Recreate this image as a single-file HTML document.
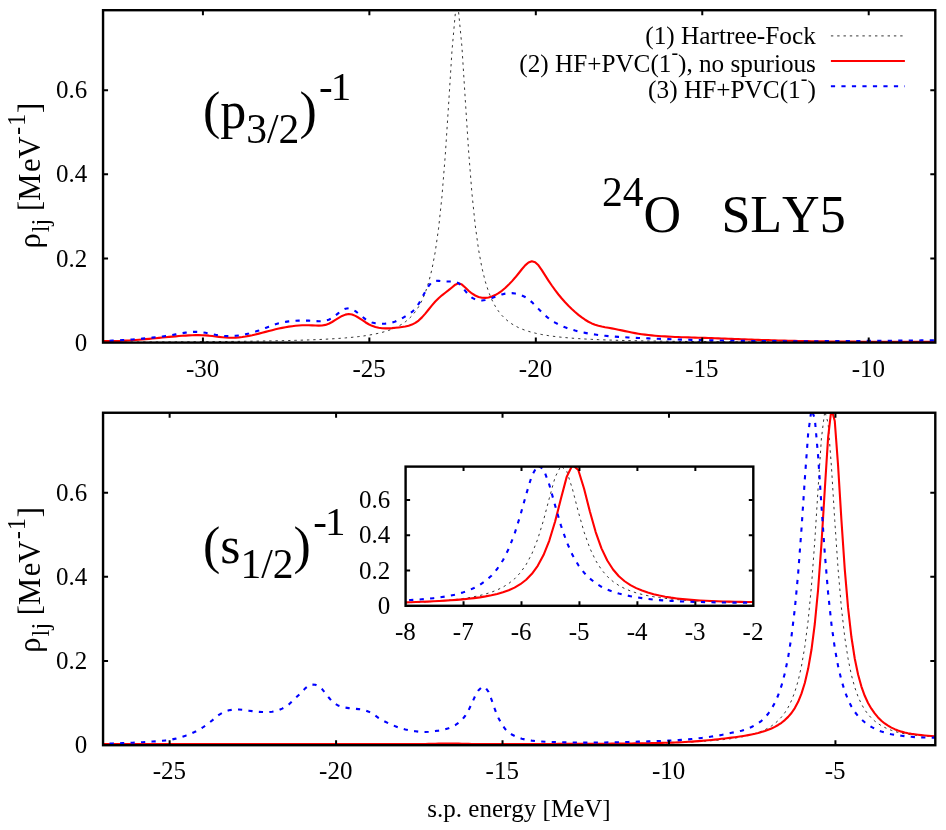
<!DOCTYPE html>
<html><head><meta charset="utf-8"><title>Level density 24O SLy5</title>
<style>
html,body{margin:0;padding:0;background:#fff;}
svg{display:block;will-change:transform;}
text{font-family:"Liberation Serif",serif;fill:#000;font-kerning:none;font-variant-ligatures:none;}
.fr{fill:none;stroke:#000;stroke-width:2.4;stroke-linejoin:miter;}
.tk{stroke:#000;stroke-width:2;fill:none;}
.hf{fill:none;stroke:#000;stroke-width:0.8;stroke-dasharray:2.4 3.9;}
.rd{fill:none;stroke:#ff0000;stroke-width:2.1;stroke-linejoin:round;}
.bl{fill:none;stroke:#0000ff;stroke-width:2.1;stroke-dasharray:4.2 6.3;stroke-linejoin:round;}
.t25{font-size:25px;}
</style></head><body>
<svg width="946" height="830" viewBox="0 0 946 830">
<rect width="946" height="830" fill="#fff"/>
<defs>
<clipPath id="ct"><rect x="103.05" y="10.2" width="832.25" height="333.70000000000005"/></clipPath>
<clipPath id="cb"><rect x="103.05" y="412.75" width="832.25" height="333.75000000000006"/></clipPath>
<clipPath id="ci"><rect x="405.6" y="466.6" width="347.69999999999993" height="140.49999999999994"/></clipPath>
</defs>

<g clip-path="url(#ct)">
<path class="hf" d="M99.06,342.14 L102.38,342.13 L105.71,342.12 L109.04,342.11 L112.37,342.10 L115.70,342.09 L119.03,342.08 L122.36,342.07 L125.69,342.06 L129.02,342.05 L132.35,342.04 L135.67,342.03 L139.00,342.01 L142.33,342.00 L145.66,341.99 L148.99,341.98 L152.32,341.96 L155.65,341.95 L158.98,341.93 L162.31,341.92 L165.64,341.90 L168.96,341.89 L172.29,341.87 L175.62,341.85 L178.95,341.83 L182.28,341.82 L185.61,341.80 L188.94,341.78 L192.27,341.76 L195.60,341.73 L198.93,341.71 L202.25,341.69 L205.58,341.66 L208.91,341.64 L212.24,341.61 L215.57,341.59 L218.90,341.56 L222.23,341.53 L225.56,341.50 L228.89,341.46 L232.22,341.43 L235.54,341.39 L238.87,341.36 L242.20,341.32 L245.53,341.28 L248.86,341.24 L252.19,341.19 L255.52,341.15 L258.85,341.10 L262.18,341.04 L265.51,340.99 L268.83,340.93 L272.16,340.87 L275.49,340.81 L278.82,340.74 L282.15,340.67 L285.48,340.60 L288.81,340.52 L292.14,340.43 L295.47,340.34 L298.80,340.25 L302.12,340.15 L305.45,340.04 L308.78,339.92 L312.11,339.80 L315.44,339.67 L318.77,339.53 L322.10,339.37 L325.43,339.21 L328.76,339.03 L332.09,338.84 L335.41,338.64 L338.74,338.41 L342.07,338.17 L345.40,337.91 L348.73,337.62 L352.06,337.30 L355.39,336.96 L358.72,336.58 L362.05,336.15 L365.38,335.69 L368.70,335.17 L372.03,334.59 L375.36,333.94 L378.69,333.21 L382.02,332.39 L385.35,331.45 L388.68,330.38 L392.01,329.15 L395.34,327.72 L398.67,326.07 L401.99,324.12 L405.32,321.82 L408.65,319.07 L411.98,315.76 L415.31,311.72 L418.64,306.74 L421.97,300.52 L425.30,292.63 L428.63,282.48 L431.96,269.22 L435.28,251.65 L438.61,228.13 L441.94,196.64 L445.27,155.30 L448.60,104.53 L451.93,51.48 L455.26,13.98 L458.59,11.95 L461.92,46.66 L465.25,99.12 L468.57,150.60 L471.90,192.97 L475.23,225.38 L478.56,249.60 L481.89,267.68 L485.22,281.31 L488.55,291.72 L491.88,299.81 L495.21,306.18 L498.54,311.27 L501.86,315.39 L505.19,318.77 L508.52,321.57 L511.85,323.91 L515.18,325.88 L518.51,327.57 L521.84,329.01 L525.17,330.26 L528.50,331.35 L531.83,332.30 L535.15,333.13 L538.48,333.87 L541.81,334.53 L545.14,335.11 L548.47,335.64 L551.80,336.11 L555.13,336.53 L558.46,336.92 L561.79,337.27 L565.12,337.59 L568.44,337.88 L571.77,338.15 L575.10,338.39 L578.43,338.62 L581.76,338.82 L585.09,339.02 L588.42,339.19 L591.75,339.36 L595.08,339.51 L598.41,339.65 L601.73,339.79 L605.06,339.91 L608.39,340.03 L611.72,340.14 L615.05,340.24 L618.38,340.33 L621.71,340.42 L625.04,340.51 L628.37,340.59 L631.70,340.66 L635.02,340.74 L638.35,340.80 L641.68,340.87 L645.01,340.93 L648.34,340.98 L651.67,341.04 L655.00,341.09 L658.33,341.14 L661.66,341.19 L664.99,341.23 L668.31,341.27 L671.64,341.32 L674.97,341.35 L678.30,341.39 L681.63,341.43 L684.96,341.46 L688.29,341.49 L691.62,341.52 L694.95,341.55 L698.28,341.58 L701.60,341.61 L704.93,341.64 L708.26,341.66 L711.59,341.69 L714.92,341.71 L718.25,341.73 L721.58,341.75 L724.91,341.77 L728.24,341.79 L731.57,341.81 L734.89,341.83 L738.22,341.85 L741.55,341.87 L744.88,341.88 L748.21,341.90 L751.54,341.92 L754.87,341.93 L758.20,341.95 L761.53,341.96 L764.86,341.97 L768.18,341.99 L771.51,342.00 L774.84,342.01 L778.17,342.03 L781.50,342.04 L784.83,342.05 L788.16,342.06 L791.49,342.07 L794.82,342.08 L798.15,342.09 L801.47,342.10 L804.80,342.11 L808.13,342.12 L811.46,342.13 L814.79,342.14 L818.12,342.15 L821.45,342.15 L824.78,342.16 L828.11,342.17 L831.44,342.18 L834.76,342.18 L838.09,342.19 L841.42,342.20 L844.75,342.21 L848.08,342.21 L851.41,342.22 L854.74,342.22 L858.07,342.23 L861.40,342.24 L864.73,342.24 L868.05,342.25 L871.38,342.25 L874.71,342.26 L878.04,342.27 L881.37,342.27 L884.70,342.28 L888.03,342.28 L891.36,342.29 L894.69,342.29 L898.02,342.29 L901.34,342.30 L904.67,342.30 L908.00,342.31 L911.33,342.31 L914.66,342.32 L917.99,342.32 L921.32,342.32 L924.65,342.33 L927.98,342.33 L931.31,342.34 L934.63,342.34 L937.96,342.34 L941.29,342.35"/>
<path class="rd" d="M99.06,341.05 L102.38,341.05 L105.71,341.09 L109.04,341.11 L112.37,341.09 L115.70,341.03 L119.03,340.94 L122.36,340.80 L125.69,340.64 L129.02,340.44 L132.35,340.22 L135.67,339.98 L139.00,339.71 L142.33,339.43 L145.66,339.14 L148.99,338.83 L152.32,338.51 L155.65,338.19 L158.98,337.87 L162.31,337.55 L165.64,337.23 L168.96,336.92 L172.29,336.62 L175.62,336.33 L178.95,336.06 L182.28,335.81 L185.61,335.58 L188.94,335.38 L192.27,335.24 L195.60,335.15 L198.93,335.14 L202.25,335.21 L205.58,335.39 L208.91,335.67 L212.24,336.03 L215.57,336.44 L218.90,336.86 L222.23,337.23 L225.56,337.53 L228.89,337.72 L232.22,337.74 L235.54,337.62 L238.87,337.35 L242.20,336.96 L245.53,336.45 L248.86,335.85 L252.19,335.17 L255.52,334.41 L258.85,333.61 L262.18,332.76 L265.51,331.89 L268.83,331.02 L272.16,330.16 L275.49,329.34 L278.82,328.57 L282.15,327.86 L285.48,327.22 L288.81,326.66 L292.14,326.18 L295.47,325.80 L298.80,325.50 L302.12,325.31 L305.45,325.22 L308.78,325.24 L312.11,325.38 L315.44,325.56 L318.77,325.65 L322.10,325.48 L325.43,324.89 L328.76,323.73 L332.09,321.99 L335.41,319.92 L338.74,317.81 L342.07,315.94 L345.40,314.60 L348.73,314.06 L352.06,314.54 L355.39,315.87 L358.72,317.78 L362.05,319.99 L365.38,322.24 L368.70,324.26 L372.03,325.83 L375.36,326.99 L378.69,327.77 L382.02,328.22 L385.35,328.40 L388.68,328.37 L392.01,328.15 L395.34,327.82 L398.67,327.42 L401.99,326.98 L405.32,326.47 L408.65,325.71 L411.98,324.58 L415.31,322.90 L418.64,320.54 L421.97,317.38 L425.30,313.61 L428.63,309.52 L431.96,305.39 L435.28,301.53 L438.61,298.18 L441.94,295.31 L445.27,292.71 L448.60,290.16 L451.93,287.44 L455.26,284.65 L458.59,283.33 L461.92,284.59 L465.25,287.47 L468.57,290.74 L471.90,293.46 L475.23,295.51 L478.56,296.91 L481.89,297.69 L485.22,297.87 L488.55,297.47 L491.88,296.52 L495.21,295.07 L498.54,293.14 L501.86,290.78 L505.19,288.00 L508.52,284.85 L511.85,281.35 L515.18,277.55 L518.51,273.48 L521.84,269.25 L525.17,265.38 L528.50,262.50 L531.83,261.26 L535.15,262.18 L538.48,265.30 L541.81,270.08 L545.14,275.41 L548.47,280.57 L551.80,285.49 L555.13,290.14 L558.46,294.50 L561.79,298.54 L565.12,302.26 L568.44,305.71 L571.77,308.95 L575.10,311.99 L578.43,314.83 L581.76,317.42 L585.09,319.73 L588.42,321.74 L591.75,323.41 L595.08,324.72 L598.41,325.75 L601.73,326.56 L605.06,327.23 L608.39,327.81 L611.72,328.39 L615.05,329.02 L618.38,329.70 L621.71,330.40 L625.04,331.11 L628.37,331.82 L631.70,332.49 L635.02,333.12 L638.35,333.68 L641.68,334.18 L645.01,334.62 L648.34,335.02 L651.67,335.37 L655.00,335.68 L658.33,335.96 L661.66,336.21 L664.99,336.42 L668.31,336.62 L671.64,336.78 L674.97,336.93 L678.30,337.07 L681.63,337.19 L684.96,337.30 L688.29,337.40 L691.62,337.50 L694.95,337.59 L698.28,337.69 L701.60,337.79 L704.93,337.90 L708.26,338.01 L711.59,338.12 L714.92,338.24 L718.25,338.36 L721.58,338.48 L724.91,338.60 L728.24,338.72 L731.57,338.85 L734.89,338.97 L738.22,339.10 L741.55,339.22 L744.88,339.35 L748.21,339.47 L751.54,339.59 L754.87,339.71 L758.20,339.83 L761.53,339.95 L764.86,340.06 L768.18,340.17 L771.51,340.27 L774.84,340.38 L778.17,340.47 L781.50,340.57 L784.83,340.65 L788.16,340.74 L791.49,340.82 L794.82,340.89 L798.15,340.96 L801.47,341.03 L804.80,341.09 L808.13,341.15 L811.46,341.21 L814.79,341.26 L818.12,341.31 L821.45,341.36 L824.78,341.40 L828.11,341.44 L831.44,341.47 L834.76,341.51 L838.09,341.54 L841.42,341.57 L844.75,341.59 L848.08,341.62 L851.41,341.64 L854.74,341.66 L858.07,341.68 L861.40,341.69 L864.73,341.71 L868.05,341.72 L871.38,341.73 L874.71,341.74 L878.04,341.75 L881.37,341.75 L884.70,341.76 L888.03,341.76 L891.36,341.77 L894.69,341.77 L898.02,341.77 L901.34,341.78 L904.67,341.78 L908.00,341.78 L911.33,341.78 L914.66,341.78 L917.99,341.78 L921.32,341.78 L924.65,341.79 L927.98,341.79 L931.31,341.79 L934.63,341.80 L937.96,341.80 L941.29,341.80"/>
<path class="bl" d="M99.06,340.91 L102.38,340.91 L105.71,340.85 L109.04,340.72 L112.37,340.59 L115.70,340.44 L119.03,340.28 L122.36,340.10 L125.69,339.91 L129.02,339.69 L132.35,339.47 L135.67,339.22 L139.00,338.95 L142.33,338.66 L145.66,338.35 L148.99,338.01 L152.32,337.66 L155.65,337.27 L158.98,336.86 L162.31,336.42 L165.64,335.95 L168.96,335.45 L172.29,334.93 L175.62,334.37 L178.95,333.78 L182.28,333.19 L185.61,332.66 L188.94,332.22 L192.27,331.92 L195.60,331.81 L198.93,331.92 L202.25,332.28 L205.58,332.81 L208.91,333.46 L212.24,334.15 L215.57,334.82 L218.90,335.40 L222.23,335.82 L225.56,336.06 L228.89,336.14 L232.22,336.06 L235.54,335.82 L238.87,335.44 L242.20,334.91 L245.53,334.26 L248.86,333.48 L252.19,332.58 L255.52,331.57 L258.85,330.47 L262.18,329.26 L265.51,327.97 L268.83,326.65 L272.16,325.37 L275.49,324.20 L278.82,323.22 L282.15,322.44 L285.48,321.84 L288.81,321.39 L292.14,321.06 L295.47,320.82 L298.80,320.65 L302.12,320.57 L305.45,320.57 L308.78,320.67 L312.11,320.87 L315.44,321.11 L318.77,321.26 L322.10,321.17 L325.43,320.69 L328.76,319.69 L332.09,318.01 L335.41,315.58 L338.74,312.82 L342.07,310.36 L345.40,308.75 L348.73,308.30 L352.06,309.19 L355.39,311.13 L358.72,313.70 L362.05,316.47 L365.38,319.08 L368.70,321.18 L372.03,322.54 L375.36,323.29 L378.69,323.65 L382.02,323.76 L385.35,323.64 L388.68,323.25 L392.01,322.55 L395.34,321.51 L398.67,320.10 L401.99,318.32 L405.32,316.28 L408.65,314.16 L411.98,311.96 L415.31,308.82 L418.64,303.88 L421.97,297.73 L425.30,291.56 L428.63,285.97 L431.96,281.94 L435.28,280.63 L438.61,280.83 L441.94,281.24 L445.27,281.55 L448.60,281.57 L451.93,281.51 L455.26,281.83 L458.59,283.16 L461.92,286.49 L465.25,290.94 L468.57,294.82 L471.90,297.68 L475.23,299.47 L478.56,300.36 L481.89,300.50 L485.22,300.06 L488.55,299.20 L491.88,298.06 L495.21,296.79 L498.54,295.54 L501.86,294.43 L505.19,293.62 L508.52,293.19 L511.85,293.16 L515.18,293.53 L518.51,294.29 L521.84,295.45 L525.17,297.06 L528.50,299.25 L531.83,302.08 L535.15,305.36 L538.48,308.85 L541.81,312.28 L545.14,315.44 L548.47,318.19 L551.80,320.57 L555.13,322.63 L558.46,324.41 L561.79,325.97 L565.12,327.34 L568.44,328.56 L571.77,329.64 L575.10,330.59 L578.43,331.44 L581.76,332.20 L585.09,332.89 L588.42,333.51 L591.75,334.07 L595.08,334.57 L598.41,335.03 L601.73,335.43 L605.06,335.79 L608.39,336.11 L611.72,336.40 L615.05,336.66 L618.38,336.89 L621.71,337.10 L625.04,337.29 L628.37,337.46 L631.70,337.63 L635.02,337.79 L638.35,337.95 L641.68,338.10 L645.01,338.25 L648.34,338.39 L651.67,338.53 L655.00,338.67 L658.33,338.80 L661.66,338.93 L664.99,339.05 L668.31,339.17 L671.64,339.28 L674.97,339.39 L678.30,339.50 L681.63,339.60 L684.96,339.70 L688.29,339.80 L691.62,339.89 L694.95,339.98 L698.28,340.06 L701.60,340.14 L704.93,340.22 L708.26,340.29 L711.59,340.37 L714.92,340.43 L718.25,340.50 L721.58,340.56 L724.91,340.62 L728.24,340.67 L731.57,340.72 L734.89,340.77 L738.22,340.82 L741.55,340.86 L744.88,340.90 L748.21,340.94 L751.54,340.97 L754.87,341.01 L758.20,341.04 L761.53,341.06 L764.86,341.09 L768.18,341.11 L771.51,341.13 L774.84,341.15 L778.17,341.16 L781.50,341.17 L784.83,341.18 L788.16,341.19 L791.49,341.20 L794.82,341.20 L798.15,341.21 L801.47,341.21 L804.80,341.21 L808.13,341.20 L811.46,341.20 L814.79,341.19 L818.12,341.18 L821.45,341.17 L824.78,341.16 L828.11,341.15 L831.44,341.14 L834.76,341.12 L838.09,341.10 L841.42,341.09 L844.75,341.07 L848.08,341.05 L851.41,341.03 L854.74,341.00 L858.07,340.98 L861.40,340.96 L864.73,340.93 L868.05,340.90 L871.38,340.88 L874.71,340.85 L878.04,340.82 L881.37,340.79 L884.70,340.76 L888.03,340.73 L891.36,340.70 L894.69,340.67 L898.02,340.64 L901.34,340.61 L904.67,340.58 L908.00,340.55 L911.33,340.52 L914.66,340.48 L917.99,340.45 L921.32,340.42 L924.65,340.39 L927.98,340.36 L931.31,340.33 L934.63,340.29 L937.96,340.28 L941.29,340.28"/>
</g>
<g clip-path="url(#cb)">
<path class="hf" d="M99.06,745.09 L102.38,745.09 L105.71,745.09 L109.04,745.08 L112.37,745.08 L115.70,745.08 L119.03,745.08 L122.36,745.08 L125.69,745.08 L129.02,745.08 L132.35,745.08 L135.67,745.08 L139.00,745.07 L142.33,745.07 L145.66,745.07 L148.99,745.07 L152.32,745.07 L155.65,745.07 L158.98,745.07 L162.31,745.07 L165.64,745.06 L168.96,745.06 L172.29,745.06 L175.62,745.06 L178.95,745.06 L182.28,745.06 L185.61,745.06 L188.94,745.05 L192.27,745.05 L195.60,745.05 L198.93,745.05 L202.25,745.05 L205.58,745.05 L208.91,745.04 L212.24,745.04 L215.57,745.04 L218.90,745.04 L222.23,745.04 L225.56,745.04 L228.89,745.03 L232.22,745.03 L235.54,745.03 L238.87,745.03 L242.20,745.03 L245.53,745.02 L248.86,745.02 L252.19,745.02 L255.52,745.02 L258.85,745.02 L262.18,745.01 L265.51,745.01 L268.83,745.01 L272.16,745.01 L275.49,745.00 L278.82,745.00 L282.15,745.00 L285.48,745.00 L288.81,744.99 L292.14,744.99 L295.47,744.99 L298.80,744.99 L302.12,744.98 L305.45,744.98 L308.78,744.98 L312.11,744.97 L315.44,744.97 L318.77,744.97 L322.10,744.97 L325.43,744.96 L328.76,744.96 L332.09,744.96 L335.41,744.95 L338.74,744.95 L342.07,744.95 L345.40,744.94 L348.73,744.94 L352.06,744.94 L355.39,744.93 L358.72,744.93 L362.05,744.92 L365.38,744.92 L368.70,744.92 L372.03,744.91 L375.36,744.91 L378.69,744.90 L382.02,744.90 L385.35,744.89 L388.68,744.89 L392.01,744.88 L395.34,744.88 L398.67,744.87 L401.99,744.87 L405.32,744.86 L408.65,744.86 L411.98,744.85 L415.31,744.85 L418.64,744.84 L421.97,744.84 L425.30,744.83 L428.63,744.82 L431.96,744.82 L435.28,744.81 L438.61,744.80 L441.94,744.80 L445.27,744.79 L448.60,744.78 L451.93,744.77 L455.26,744.77 L458.59,744.76 L461.92,744.75 L465.25,744.74 L468.57,744.73 L471.90,744.73 L475.23,744.72 L478.56,744.71 L481.89,744.70 L485.22,744.69 L488.55,744.68 L491.88,744.67 L495.21,744.66 L498.54,744.65 L501.86,744.63 L505.19,744.62 L508.52,744.61 L511.85,744.60 L515.18,744.58 L518.51,744.57 L521.84,744.56 L525.17,744.54 L528.50,744.53 L531.83,744.51 L535.15,744.50 L538.48,744.48 L541.81,744.46 L545.14,744.45 L548.47,744.43 L551.80,744.41 L555.13,744.39 L558.46,744.37 L561.79,744.35 L565.12,744.33 L568.44,744.30 L571.77,744.28 L575.10,744.26 L578.43,744.23 L581.76,744.20 L585.09,744.18 L588.42,744.15 L591.75,744.12 L595.08,744.08 L598.41,744.05 L601.73,744.02 L605.06,743.98 L608.39,743.94 L611.72,743.91 L615.05,743.86 L618.38,743.82 L621.71,743.78 L625.04,743.73 L628.37,743.68 L631.70,743.63 L635.02,743.57 L638.35,743.51 L641.68,743.45 L645.01,743.39 L648.34,743.32 L651.67,743.25 L655.00,743.17 L658.33,743.09 L661.66,743.00 L664.99,742.91 L668.31,742.81 L671.64,742.71 L674.97,742.60 L678.30,742.48 L681.63,742.35 L684.96,742.22 L688.29,742.07 L691.62,741.92 L694.95,741.75 L698.28,741.57 L701.60,741.37 L704.93,741.16 L708.26,740.93 L711.59,740.68 L714.92,740.41 L718.25,740.11 L721.58,739.78 L724.91,739.43 L728.24,739.03 L731.57,738.60 L734.89,738.11 L738.22,737.57 L741.55,736.97 L744.88,736.29 L748.21,735.53 L751.54,734.67 L754.87,733.69 L758.20,732.56 L761.53,731.27 L764.86,729.77 L768.18,728.02 L771.51,725.96 L774.84,723.51 L778.17,720.58 L781.50,717.04 L784.83,712.70 L788.16,707.32 L791.49,700.56 L794.82,691.96 L798.15,680.83 L801.47,666.22 L804.80,646.78 L808.13,620.71 L811.46,585.92 L814.79,541.00 L818.12,488.09 L821.45,437.97 L824.78,411.15 L828.11,423.20 L831.44,466.71 L834.76,520.45 L838.09,569.16 L841.42,607.88 L844.75,637.10 L848.08,658.83 L851.41,675.06 L854.74,687.31 L858.07,696.69 L861.40,703.99 L864.73,709.75 L868.05,714.33 L871.38,718.04 L874.71,721.06 L878.04,723.58 L881.37,725.69 L884.70,727.48 L888.03,729.01 L891.36,730.31 L894.69,731.41 L898.02,732.34 L901.34,733.12 L904.67,733.76 L908.00,734.31 L911.33,734.76 L914.66,735.15 L917.99,735.49 L921.32,735.79 L924.65,736.05 L927.98,736.27 L931.31,736.46 L934.63,736.62 L937.96,736.87 L941.29,737.13"/>
<path class="rd" d="M99.06,744.17 L102.38,744.17 L105.71,744.17 L109.04,744.17 L112.37,744.16 L115.70,744.16 L119.03,744.16 L122.36,744.16 L125.69,744.16 L129.02,744.16 L132.35,744.16 L135.67,744.16 L139.00,744.16 L142.33,744.16 L145.66,744.16 L148.99,744.15 L152.32,744.15 L155.65,744.15 L158.98,744.15 L162.31,744.15 L165.64,744.15 L168.96,744.15 L172.29,744.15 L175.62,744.15 L178.95,744.15 L182.28,744.15 L185.61,744.15 L188.94,744.14 L192.27,744.14 L195.60,744.14 L198.93,744.14 L202.25,744.14 L205.58,744.14 L208.91,744.14 L212.24,744.14 L215.57,744.14 L218.90,744.14 L222.23,744.13 L225.56,744.13 L228.89,744.13 L232.22,744.13 L235.54,744.13 L238.87,744.13 L242.20,744.13 L245.53,744.13 L248.86,744.13 L252.19,744.13 L255.52,744.12 L258.85,744.12 L262.18,744.12 L265.51,744.12 L268.83,744.12 L272.16,744.12 L275.49,744.12 L278.82,744.12 L282.15,744.11 L285.48,744.11 L288.81,744.11 L292.14,744.11 L295.47,744.11 L298.80,744.11 L302.12,744.10 L305.45,744.10 L308.78,744.10 L312.11,744.10 L315.44,744.10 L318.77,744.10 L322.10,744.09 L325.43,744.09 L328.76,744.09 L332.09,744.09 L335.41,744.09 L338.74,744.08 L342.07,744.08 L345.40,744.08 L348.73,744.08 L352.06,744.08 L355.39,744.08 L358.72,744.07 L362.05,744.07 L365.38,744.07 L368.70,744.07 L372.03,744.07 L375.36,744.07 L378.69,744.07 L382.02,744.06 L385.35,744.06 L388.68,744.06 L392.01,744.06 L395.34,744.06 L398.67,744.05 L401.99,744.05 L405.32,744.05 L408.65,744.04 L411.98,744.04 L415.31,744.03 L418.64,744.02 L421.97,743.99 L425.30,743.94 L428.63,743.87 L431.96,743.81 L435.28,743.74 L438.61,743.67 L441.94,743.62 L445.27,743.58 L448.60,743.55 L451.93,743.56 L455.26,743.60 L458.59,743.66 L461.92,743.74 L465.25,743.82 L468.57,743.91 L471.90,743.98 L475.23,744.04 L478.56,744.07 L481.89,744.07 L485.22,744.08 L488.55,744.08 L491.88,744.08 L495.21,744.08 L498.54,744.08 L501.86,744.07 L505.19,744.07 L508.52,744.07 L511.85,744.06 L515.18,744.05 L518.51,744.05 L521.84,744.04 L525.17,744.03 L528.50,744.02 L531.83,744.01 L535.15,744.00 L538.48,743.99 L541.81,743.98 L545.14,743.97 L548.47,743.96 L551.80,743.94 L555.13,743.93 L558.46,743.92 L561.79,743.91 L565.12,743.89 L568.44,743.88 L571.77,743.87 L575.10,743.85 L578.43,743.84 L581.76,743.83 L585.09,743.81 L588.42,743.80 L591.75,743.78 L595.08,743.77 L598.41,743.75 L601.73,743.73 L605.06,743.71 L608.39,743.69 L611.72,743.66 L615.05,743.63 L618.38,743.60 L621.71,743.57 L625.04,743.54 L628.37,743.50 L631.70,743.46 L635.02,743.41 L638.35,743.36 L641.68,743.30 L645.01,743.24 L648.34,743.18 L651.67,743.11 L655.00,743.04 L658.33,742.96 L661.66,742.88 L664.99,742.79 L668.31,742.70 L671.64,742.60 L674.97,742.49 L678.30,742.36 L681.63,742.20 L684.96,742.02 L688.29,741.82 L691.62,741.59 L694.95,741.35 L698.28,741.10 L701.60,740.83 L704.93,740.55 L708.26,740.27 L711.59,739.95 L714.92,739.61 L718.25,739.23 L721.58,738.83 L724.91,738.43 L728.24,738.01 L731.57,737.59 L734.89,737.18 L738.22,736.73 L741.55,736.24 L744.88,735.71 L748.21,735.11 L751.54,734.45 L754.87,733.72 L758.20,732.90 L761.53,732.00 L764.86,730.99 L768.18,729.83 L771.51,728.47 L774.84,726.87 L778.17,724.99 L781.50,722.76 L784.83,720.08 L788.16,716.87 L791.49,712.97 L794.82,708.08 L798.15,701.80 L801.47,693.65 L804.80,683.00 L808.13,668.83 L811.46,649.76 L814.79,624.00 L818.12,589.32 L821.45,544.00 L824.78,489.74 L828.11,437.33 L831.44,408.71 L834.76,420.97 L838.09,465.72 L841.42,520.02 L844.75,569.13 L848.08,607.96 L851.41,637.01 L854.74,658.50 L858.07,674.50 L861.40,686.57 L864.73,695.81 L868.05,703.00 L871.38,708.68 L874.71,713.36 L878.04,717.42 L881.37,720.78 L884.70,723.45 L888.03,725.68 L891.36,727.58 L894.69,729.17 L898.02,730.52 L901.34,731.63 L904.67,732.53 L908.00,733.25 L911.33,733.84 L914.66,734.33 L917.99,734.76 L921.32,735.16 L924.65,735.49 L927.98,735.77 L931.31,736.01 L934.63,736.22 L937.96,736.51 L941.29,736.80"/>
<path class="bl" d="M99.06,743.69 L102.38,743.69 L105.71,743.63 L109.04,743.55 L112.37,743.46 L115.70,743.35 L119.03,743.24 L122.36,743.12 L125.69,743.00 L129.02,742.86 L132.35,742.71 L135.67,742.55 L139.00,742.37 L142.33,742.18 L145.66,741.98 L148.99,741.77 L152.32,741.56 L155.65,741.33 L158.98,741.07 L162.31,740.78 L165.64,740.43 L168.96,740.01 L172.29,739.40 L175.62,738.62 L178.95,737.71 L182.28,736.71 L185.61,735.66 L188.94,734.47 L192.27,733.10 L195.60,731.56 L198.93,729.82 L202.25,727.76 L205.58,725.45 L208.91,723.04 L212.24,720.44 L215.57,717.51 L218.90,714.84 L222.23,712.92 L225.56,711.32 L228.89,710.29 L232.22,709.80 L235.54,709.49 L238.87,709.46 L242.20,709.77 L245.53,710.25 L248.86,710.69 L252.19,711.16 L255.52,711.63 L258.85,711.91 L262.18,712.04 L265.51,712.11 L268.83,712.07 L272.16,711.69 L275.49,711.11 L278.82,710.16 L282.15,708.65 L285.48,706.80 L288.81,704.42 L292.14,701.27 L295.47,698.11 L298.80,694.94 L302.12,691.72 L305.45,688.12 L308.78,685.67 L312.11,684.57 L315.44,684.73 L318.77,686.12 L322.10,689.06 L325.43,693.35 L328.76,697.48 L332.09,701.38 L335.41,703.90 L338.74,705.84 L342.07,706.98 L345.40,707.63 L348.73,708.10 L352.06,708.50 L355.39,708.83 L358.72,709.11 L362.05,709.49 L365.38,710.29 L368.70,711.67 L372.03,713.34 L375.36,715.66 L378.69,718.10 L382.02,720.05 L385.35,721.79 L388.68,723.39 L392.01,724.88 L395.34,726.29 L398.67,727.56 L401.99,728.59 L405.32,729.50 L408.65,730.26 L411.98,730.82 L415.31,731.29 L418.64,731.69 L421.97,731.94 L425.30,731.97 L428.63,731.78 L431.96,731.46 L435.28,731.06 L438.61,730.61 L441.94,729.99 L445.27,729.19 L448.60,728.21 L451.93,726.92 L455.26,725.12 L458.59,722.84 L461.92,719.92 L465.25,715.76 L468.57,710.23 L471.90,703.20 L475.23,695.82 L478.56,690.19 L481.89,687.12 L485.22,687.35 L488.55,691.97 L491.88,700.64 L495.21,710.23 L498.54,718.18 L501.86,724.37 L505.19,729.08 L508.52,732.34 L511.85,734.53 L515.18,736.19 L518.51,737.54 L521.84,738.67 L525.17,739.53 L528.50,740.15 L531.83,740.64 L535.15,741.02 L538.48,741.31 L541.81,741.55 L545.14,741.75 L548.47,741.90 L551.80,742.03 L555.13,742.14 L558.46,742.23 L561.79,742.30 L565.12,742.37 L568.44,742.43 L571.77,742.48 L575.10,742.53 L578.43,742.57 L581.76,742.59 L585.09,742.60 L588.42,742.58 L591.75,742.56 L595.08,742.54 L598.41,742.51 L601.73,742.47 L605.06,742.43 L608.39,742.37 L611.72,742.32 L615.05,742.25 L618.38,742.18 L621.71,742.10 L625.04,742.02 L628.37,741.94 L631.70,741.86 L635.02,741.77 L638.35,741.67 L641.68,741.57 L645.01,741.47 L648.34,741.36 L651.67,741.25 L655.00,741.15 L658.33,741.05 L661.66,740.94 L664.99,740.81 L668.31,740.66 L671.64,740.48 L674.97,740.29 L678.30,740.08 L681.63,739.85 L684.96,739.60 L688.29,739.33 L691.62,739.04 L694.95,738.71 L698.28,738.33 L701.60,737.92 L704.93,737.48 L708.26,737.03 L711.59,736.57 L714.92,736.08 L718.25,735.55 L721.58,734.96 L724.91,734.31 L728.24,733.60 L731.57,732.82 L734.89,732.13 L738.22,731.45 L741.55,730.68 L744.88,729.71 L748.21,728.48 L751.54,727.01 L754.87,725.26 L758.20,723.19 L761.53,720.78 L764.86,717.72 L768.18,713.76 L771.51,708.85 L774.84,702.80 L778.17,695.27 L781.50,685.69 L784.83,673.30 L788.16,657.26 L791.49,636.31 L794.82,608.89 L798.15,573.38 L801.47,529.21 L804.80,479.37 L808.13,433.92 L811.46,409.57 L814.79,418.55 L818.12,456.07 L821.45,505.58 L824.78,553.21 L828.11,592.94 L831.44,624.06 L834.76,647.91 L838.09,666.12 L841.42,680.17 L844.75,691.15 L848.08,699.79 L851.41,706.56 L854.74,711.84 L858.07,716.07 L861.40,719.45 L864.73,722.23 L868.05,724.75 L871.38,726.93 L874.71,728.78 L878.04,730.34 L881.37,731.60 L884.70,732.63 L888.03,733.50 L891.36,734.23 L894.69,734.83 L898.02,735.32 L901.34,735.74 L904.67,736.13 L908.00,736.50 L911.33,736.82 L914.66,737.10 L917.99,737.32 L921.32,737.47 L924.65,737.56 L927.98,737.60 L931.31,737.59 L934.63,737.54 L937.96,737.72 L941.29,737.94"/>
</g>
<g clip-path="url(#ci)">
<path class="hf" d="M398.65,603.03 L404.44,602.83 L410.24,602.61 L416.03,602.35 L421.83,602.07 L427.62,601.75 L433.42,601.39 L439.21,600.98 L445.01,600.51 L450.80,599.97 L456.60,599.34 L462.39,598.61 L468.19,597.74 L473.98,596.72 L479.78,595.49 L485.57,594.01 L491.37,592.19 L497.16,589.94 L502.96,587.11 L508.75,583.51 L514.55,578.85 L520.34,572.73 L526.14,564.59 L531.93,553.67 L537.73,539.11 L543.52,520.30 L549.32,498.15 L555.11,477.16 L560.91,465.93 L566.70,470.98 L572.50,489.19 L578.29,511.69 L584.09,532.09 L589.88,548.30 L595.68,560.54 L601.47,569.64 L607.27,576.43 L613.06,581.56 L618.86,585.49 L624.65,588.54 L630.45,590.95 L636.24,592.88 L642.04,594.43 L647.83,595.69 L653.63,596.75 L659.42,597.63 L665.22,598.38 L671.01,599.02 L676.81,599.56 L682.60,600.03 L688.40,600.42 L694.19,600.74 L699.99,601.01 L705.78,601.24 L711.58,601.43 L717.37,601.59 L723.17,601.74 L728.96,601.86 L734.76,601.97 L740.55,602.06 L746.35,602.14 L752.14,602.21 L757.94,602.31 L763.73,602.42"/>
<path class="rd" d="M398.65,602.62 L404.44,602.44 L410.24,602.25 L416.03,602.05 L421.83,601.82 L427.62,601.58 L433.42,601.30 L439.21,600.99 L445.01,600.65 L450.80,600.27 L456.60,599.85 L462.39,599.36 L468.19,598.79 L473.98,598.13 L479.78,597.34 L485.57,596.40 L491.37,595.28 L497.16,593.94 L502.96,592.30 L508.75,590.26 L514.55,587.63 L520.34,584.21 L526.14,579.76 L531.93,573.82 L537.73,565.84 L543.52,555.05 L549.32,540.53 L555.11,521.56 L560.91,498.84 L566.70,476.89 L572.50,464.91 L578.29,470.04 L584.09,488.78 L589.88,511.51 L595.68,532.08 L601.47,548.34 L607.27,560.50 L613.06,569.50 L618.86,576.20 L624.65,581.25 L630.45,585.12 L636.24,588.13 L642.04,590.51 L647.83,592.47 L653.63,594.17 L659.42,595.58 L665.22,596.69 L671.01,597.63 L676.81,598.42 L682.60,599.09 L688.40,599.65 L694.19,600.12 L699.99,600.49 L705.78,600.80 L711.58,601.04 L717.37,601.25 L723.17,601.43 L728.96,601.59 L734.76,601.73 L740.55,601.85 L746.35,601.95 L752.14,602.04 L757.94,602.16 L763.73,602.28"/>
<path class="bl" d="M398.65,600.62 L404.44,600.33 L410.24,600.04 L416.03,599.72 L421.83,599.32 L427.62,598.80 L433.42,598.18 L439.21,597.45 L445.01,596.58 L450.80,595.57 L456.60,594.29 L462.39,592.63 L468.19,590.58 L473.98,588.04 L479.78,584.90 L485.57,580.88 L491.37,575.69 L497.16,568.98 L502.96,560.21 L508.75,548.73 L514.55,533.86 L520.34,515.36 L526.14,494.49 L531.93,475.46 L537.73,465.27 L543.52,469.03 L549.32,484.74 L555.11,505.47 L560.91,525.41 L566.70,542.05 L572.50,555.08 L578.29,565.06 L584.09,572.69 L589.88,578.57 L595.68,583.17 L601.47,586.79 L607.27,589.62 L613.06,591.83 L618.86,593.60 L624.65,595.02 L630.45,596.18 L636.24,597.24 L642.04,598.15 L647.83,598.93 L653.63,599.58 L659.42,600.11 L665.22,600.54 L671.01,600.90 L676.81,601.21 L682.60,601.46 L688.40,601.66 L694.19,601.84 L699.99,602.00 L705.78,602.16 L711.58,602.29 L717.37,602.41 L723.17,602.50 L728.96,602.56 L734.76,602.60 L740.55,602.62 L746.35,602.61 L752.14,602.59 L757.94,602.67 L763.73,602.76"/>
</g>
<rect class="fr" x="103.05" y="10.2" width="832.25" height="332.40"/>
<path class="tk" d="M202.92,342.6 v-5.0 M202.92,10.2 v5.0 M369.37,342.6 v-5.0 M369.37,10.2 v5.0 M535.82,342.6 v-5.0 M535.82,10.2 v5.0 M702.27,342.6 v-5.0 M702.27,10.2 v5.0 M868.72,342.6 v-5.0 M868.72,10.2 v5.0"/>
<path class="tk" d="M103.05,258.45 h5.0 M935.3,258.45 h-5.0 M103.05,174.30 h5.0 M935.3,174.30 h-5.0 M103.05,90.14 h5.0 M935.3,90.14 h-5.0"/>
<rect class="fr" x="103.05" y="412.75" width="832.25" height="332.45"/>
<path class="tk" d="M169.63,745.2 v-5.0 M169.63,412.75 v5.0 M336.08,745.2 v-5.0 M336.08,412.75 v5.0 M502.53,745.2 v-5.0 M502.53,412.75 v5.0 M668.98,745.2 v-5.0 M668.98,412.75 v5.0 M835.43,745.2 v-5.0 M835.43,412.75 v5.0"/>
<path class="tk" d="M103.05,661.04 h5.0 M935.3,661.04 h-5.0 M103.05,576.87 h5.0 M935.3,576.87 h-5.0 M103.05,492.71 h5.0 M935.3,492.71 h-5.0"/>
<rect class="fr" x="405.6" y="466.6" width="347.70" height="139.20"/>
<path class="tk" d="M463.55,605.8 v-4.5 M463.55,466.6 v4.5 M521.50,605.8 v-4.5 M521.50,466.6 v4.5 M579.45,605.8 v-4.5 M579.45,466.6 v4.5 M637.40,605.8 v-4.5 M637.40,466.6 v4.5 M695.35,605.8 v-4.5 M695.35,466.6 v4.5"/>
<path class="tk" d="M405.6,570.56 h4.5 M753.3,570.56 h-4.5 M405.6,535.32 h4.5 M753.3,535.32 h-4.5 M405.6,500.08 h4.5 M753.3,500.08 h-4.5"/>
<text x="202.62" y="376.60" font-size="25" text-anchor="middle" >-30</text>
<text x="369.07" y="376.60" font-size="25" text-anchor="middle" >-25</text>
<text x="535.52" y="376.60" font-size="25" text-anchor="middle" >-20</text>
<text x="701.97" y="376.60" font-size="25" text-anchor="middle" >-15</text>
<text x="868.42" y="376.60" font-size="25" text-anchor="middle" >-10</text>
<text x="169.33" y="778.70" font-size="25" text-anchor="middle" >-25</text>
<text x="335.78" y="778.70" font-size="25" text-anchor="middle" >-20</text>
<text x="502.23" y="778.70" font-size="25" text-anchor="middle" >-15</text>
<text x="668.68" y="778.70" font-size="25" text-anchor="middle" >-10</text>
<text x="835.13" y="778.70" font-size="25" text-anchor="middle" >-5</text>
<text x="87.30" y="350.70" font-size="25" text-anchor="end" >0</text>
<text x="87.30" y="753.30" font-size="25" text-anchor="end" >0</text>
<text x="390.30" y="613.90" font-size="25" text-anchor="end" >0</text>
<text x="87.30" y="266.55" font-size="25" text-anchor="end" >0.2</text>
<text x="87.30" y="669.14" font-size="25" text-anchor="end" >0.2</text>
<text x="390.30" y="578.66" font-size="25" text-anchor="end" >0.2</text>
<text x="87.30" y="182.40" font-size="25" text-anchor="end" >0.4</text>
<text x="87.30" y="584.97" font-size="25" text-anchor="end" >0.4</text>
<text x="390.30" y="543.42" font-size="25" text-anchor="end" >0.4</text>
<text x="87.30" y="98.24" font-size="25" text-anchor="end" >0.6</text>
<text x="87.30" y="500.81" font-size="25" text-anchor="end" >0.6</text>
<text x="390.30" y="508.18" font-size="25" text-anchor="end" >0.6</text>
<text x="405.30" y="640.30" font-size="25" text-anchor="middle" >-8</text>
<text x="463.25" y="640.30" font-size="25" text-anchor="middle" >-7</text>
<text x="521.20" y="640.30" font-size="25" text-anchor="middle" >-6</text>
<text x="579.15" y="640.30" font-size="25" text-anchor="middle" >-5</text>
<text x="637.10" y="640.30" font-size="25" text-anchor="middle" >-4</text>
<text x="695.05" y="640.30" font-size="25" text-anchor="middle" >-3</text>
<text x="753.00" y="640.30" font-size="25" text-anchor="middle" >-2</text>
<text x="519.00" y="817.30" font-size="25" text-anchor="middle" >s.p. energy [MeV]</text>
<text transform="translate(40.0,248.6) rotate(-90)" font-size="30.5" text-anchor="start">ρ<tspan font-size="24.4" dy="9.2" dx="1.2">lj</tspan><tspan dy="-9.2"> [M</tspan><tspan dx="1.6">e</tspan>V<tspan font-size="24.4" dy="-15.2" dx="1.6" letter-spacing="0.8">-1</tspan><tspan dy="15.2">]</tspan></text>
<text transform="translate(40.0,652.8) rotate(-90)" font-size="30.5" text-anchor="start">ρ<tspan font-size="24.4" dy="9.2" dx="1.2">lj</tspan><tspan dy="-9.2"> [M</tspan><tspan dx="1.6">e</tspan>V<tspan font-size="24.4" dy="-15.2" dx="1.6" letter-spacing="0.8">-1</tspan><tspan dy="15.2">]</tspan></text>
<text x="202.9" y="128.4" font-size="52">(p<tspan font-size="41.6" dy="15">3/2</tspan><tspan dy="-15">)</tspan><tspan font-size="41" dy="-28" dx="2.3" letter-spacing="-2">-1</tspan></text>
<text x="202.9" y="562.8" font-size="52">(s<tspan font-size="41.6" dy="15">1/2</tspan><tspan dy="-15">)</tspan><tspan font-size="41" dy="-28" dx="2.3" letter-spacing="-2">-1</tspan></text>
<text x="602.0" y="232.0" font-size="52"><tspan font-size="41.6" dy="-25.6">24</tspan><tspan dy="25.6">O</tspan></text>
<text x="721.4" y="232.0" font-size="52">SLY5</text>
<text x="815.90" y="44.30" font-size="25.3" text-anchor="end" >(1) Hartree-Fock</text>
<text x="815.9" y="71.6" font-size="25.2" text-anchor="end">(2) HF+PVC(1<tspan font-size="20" dy="-12.5">-</tspan><tspan dy="12.5">), no spurious</tspan></text>
<text x="815.9" y="97.6" font-size="25.3" text-anchor="end">(3) HF+PVC(1<tspan font-size="20" dy="-12.5">-</tspan><tspan dy="12.5">)</tspan></text>
<path class="hf" d="M830.9,35.9 H904.9"/>
<path class="rd" d="M830.9,61.0 H904.9"/>
<path class="bl" d="M830.9,86.3 H904.9"/>
</svg></body></html>
